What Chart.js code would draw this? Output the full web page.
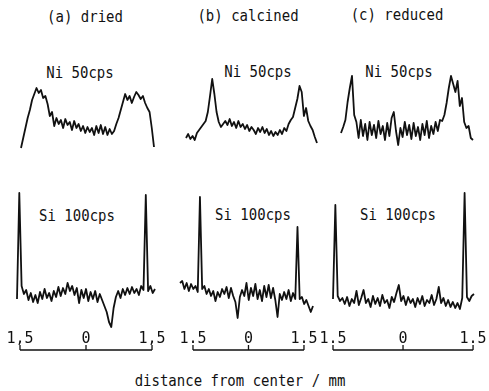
<!DOCTYPE html>
<html>
<head>
<meta charset="utf-8">
<script src="https://cdn.jsdelivr.net/npm/chart.js@4"></script>
<style>
  html, body { margin: 0; padding: 0; background: #fff; }
  body { width: 489px; height: 391px; position: relative; overflow: hidden; }
  canvas { position: absolute; }
  .lbl {
    position: absolute;
    font-family: 'DejaVu Sans Mono', monospace;
    font-size: 14px;
    line-height: 1;
    color: #111;
    white-space: nowrap;
    transform: translate(-50%, -50%) scale(1, 1.15);
  }
</style>
</head>
<body>
<div class="lbl" style="left:85px;top:16px">(a) dried</div>
<div class="lbl" style="left:248px;top:15px">(b) calcined</div>
<div class="lbl" style="left:397px;top:14px">(c) reduced</div>

<div class="lbl" style="left:80px;top:72px">Ni 50cps</div>
<div class="lbl" style="left:258px;top:71px">Ni 50cps</div>
<div class="lbl" style="left:399px;top:71px">Ni 50cps</div>

<div class="lbl" style="left:77px;top:215px">Si 100cps</div>
<div class="lbl" style="left:253px;top:214px">Si 100cps</div>
<div class="lbl" style="left:398px;top:214px">Si 100cps</div>

<div class="lbl" style="left:240px;top:380px">distance from center / mm</div>

<canvas id="niA"></canvas>
<canvas id="niB"></canvas>
<canvas id="niC"></canvas>
<canvas id="siA"></canvas>
<canvas id="siB"></canvas>
<canvas id="siC"></canvas>

<script>
// scan positions along the pellet diameter (mm)
const positions = [-1.5, -1.45, -1.4, -1.35, -1.3, -1.25, -1.2, -1.15, -1.1, -1.05,
	-1, -0.95, -0.9, -0.85, -0.8, -0.75, -0.7, -0.65, -0.6, -0.55,
	-0.5, -0.45, -0.4, -0.35, -0.3, -0.25, -0.2, -0.15, -0.1, -0.05,
	0, 0.05, 0.1, 0.15, 0.2, 0.25, 0.3, 0.35, 0.4, 0.45,
	0.5, 0.55, 0.6, 0.65, 0.7, 0.75, 0.8, 0.85, 0.9, 0.95,
	1, 1.05, 1.1, 1.15, 1.2, 1.25, 1.3, 1.35, 1.4, 1.45, 1.5]

// Ni intensity (arbitrary units)
const niDried = [2, 12, 22, 32, 40, 50, 56, 62, 57, 60, 52, 54, 46, 34, 38, 24, 32, 26, 30, 22,
	31, 25, 28, 20, 29, 22, 26, 19, 24, 17, 23, 18, 22, 15, 24, 17, 25, 16, 23, 15,
	21, 16, 19, 26, 32, 40, 48, 56, 50, 54, 47, 53, 58, 55, 51, 54, 47, 42, 38, 22, 3]
const niCalcined = [12, 16, 11, 14, 10, 17, 20, 23, 26, 29, 38, 54, 71, 56, 38, 28, 23, 26, 29, 25,
	31, 24, 28, 22, 29, 23, 26, 21, 25, 19, 23, 20, 16, 22, 18, 23, 17, 21, 15, 19,
	14, 18, 15, 20, 16, 22, 19, 26, 30, 33, 42, 51, 64, 58, 34, 42, 29, 24, 20, 13, 7]
const niReduced = [17, 23, 30, 48, 62, 74, 35, 28, 12, 30, 14, 26, 10, 28, 15, 25, 12, 29, 16, 24,
	10, 27, 14, 32, 38, 19, 5, 22, 13, 28, 15, 25, 11, 27, 14, 23, 10, 26, 15, 29,
	12, 24, 16, 28, 19, 30, 29, 35, 47, 62, 74, 66, 58, 69, 44, 52, 28, 22, 24, 12, 10]

// Si intensity (arbitrary units)
const siDried = [31, 137, 44, 36, 40, 30, 37, 28, 35, 27, 38, 31, 41, 32, 37, 29, 39, 33, 43, 34,
	42, 36, 47, 39, 44, 35, 42, 27, 40, 32, 41, 29, 38, 31, 39, 28, 36, 30, 24, 18,
	8, 3, 22, 33, 39, 32, 41, 35, 42, 36, 43, 37, 41, 35, 44, 40, 135, 39, 44, 37, 41]
const siCalcined = [47, 49, 41, 47, 39, 46, 41, 44, 38, 133, 41, 44, 36, 41, 34, 39, 29, 38, 33, 41,
	36, 43, 32, 42, 34, 28, 12, 33, 40, 34, 47, 30, 42, 34, 46, 31, 40, 29, 44, 33,
	45, 32, 42, 30, 13, 36, 30, 38, 31, 40, 29, 37, 31, 103, 31, 33, 26, 30, 24, 18, 24]
const siReduced = [31, 125, 34, 29, 32, 26, 33, 24, 31, 27, 39, 25, 32, 40, 27, 31, 23, 34, 26, 32,
	24, 35, 27, 30, 22, 33, 28, 37, 45, 29, 34, 25, 33, 27, 31, 23, 32, 26, 34, 24,
	30, 27, 35, 25, 31, 43, 27, 32, 24, 30, 23, 28, 22, 27, 21, 32, 137, 33, 29, 34, 36]

// axis bracket ticks and their labels
const tickValues = [-1.5, 0, 1.5]
const tickLabelsA = ['1,5', '0', '1,5']
const tickLabelsB = ['1.5', '0', '1.5']
const tickLabelsC = ['1.5', '0', '1.5']

const INK = '#111'
const PAD = 20

// bracket under the Si traces, drawn from the xb scale
const bracketPlugin = {
	id: 'bracket',
	afterDraw(chart) {
		const s = chart.scales.xb
		if (!s) return
		const ctx = chart.ctx
		const y = s.bottom + 2
		ctx.save()
		ctx.strokeStyle = INK
		ctx.lineWidth = 1.3
		ctx.beginPath()
		ctx.moveTo(s.getPixelForValue(tickValues[0]), y)
		ctx.lineTo(s.getPixelForValue(tickValues[tickValues.length - 1]), y)
		tickValues.forEach(v => {
			const px = s.getPixelForValue(v)
			ctx.moveTo(px, y)
			ctx.lineTo(px, y - 5)
		})
		ctx.stroke()
		ctx.restore()
	},
}

function traceDataset(values) {
	return {
		data: positions.map((x, i) => ({ x, y: values[i] })),
		borderColor: INK,
		borderWidth: 1.8,
		borderJoinStyle: 'round',
		pointRadius: 0,
		tension: 0,
		clip: false,
	}
}

function placeCanvas(el, left, top, width, height) {
	el.width = width
	el.height = height
	el.style.left = left + 'px'
	el.style.top = top + 'px'
	el.style.width = width + 'px'
	el.style.height = height + 'px'
}

// Ni profile: plot area l..r, t..b in page pixels
function niChart(id, values, l, r) {
	const t = 60, b = 150
	const el = document.getElementById(id)
	placeCanvas(el, l - PAD, t - PAD, r - l + 2 * PAD, b - t + 2 * PAD)
	new Chart(el.getContext('2d'), {
		type: 'line',
		data: { datasets: [traceDataset(values)] },
		options: {
			responsive: false,
			animation: false,
			events: [],
			layout: { padding: PAD },
			plugins: { legend: { display: false }, tooltip: { enabled: false } },
			scales: {
				x: { type: 'linear', min: -1.5, max: 1.5, display: false },
				y: { min: 0, max: 90, display: false },
			},
		},
	})
}

// Si profile with the distance axis below it
function siChart(id, values, l, r, axisMin, axisMax, labels) {
	const t = 190, bottom = 366
	const el = document.getElementById(id)
	placeCanvas(el, l - PAD, t - PAD, r - l + 2 * PAD, bottom - t + PAD)
	new Chart(el.getContext('2d'), {
		type: 'line',
		data: { datasets: [traceDataset(values)] },
		options: {
			responsive: false,
			animation: false,
			events: [],
			layout: { padding: { left: PAD, right: PAD, top: PAD, bottom: 18 } },
			plugins: { legend: { display: false }, tooltip: { enabled: false } },
			scales: {
				x: { type: 'linear', min: -1.5, max: 1.5, display: false },
				xb: {
					type: 'linear',
					position: 'bottom',
					min: axisMin,
					max: axisMax,
					afterBuildTicks: axis => {
						axis.ticks = tickValues.map(v => ({ value: v }))
					},
					ticks: {
						autoSkip: false,
						maxRotation: 0,
						padding: 0,
						color: INK,
						font: { family: 'DejaVu Sans Mono', size: 15 },
						callback: (v, i) => labels[i],
					},
					grid: { display: false, drawTicks: false },
					border: { display: false },
				},
				y: { min: 0, max: 140, display: false },
			},
		},
		plugins: [bracketPlugin],
	})
}

niChart('niA', niDried, 21, 154)
niChart('niB', niCalcined, 186, 317)
niChart('niC', niReduced, 341, 473)

siChart('siA', siDried, 17, 155, -1.568, 1.568, tickLabelsA)
siChart('siB', siCalcined, 180, 313, -1.851, 1.744, tickLabelsB)
siChart('siC', siReduced, 333, 474, -1.5, 1.52, tickLabelsC)
</script>
</body>
</html>
